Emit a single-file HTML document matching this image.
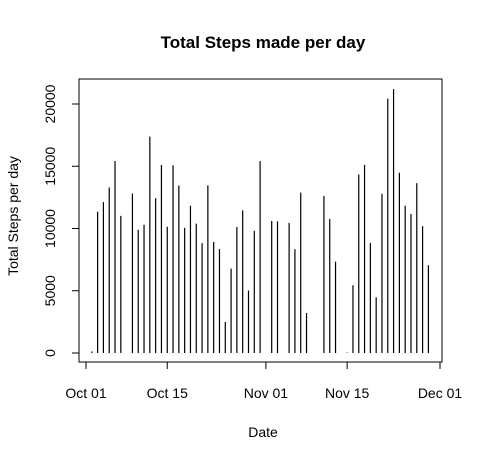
<!DOCTYPE html>
<html><head><meta charset="utf-8"><style>
body{margin:0;background:#fff}
svg text{font-family:"Liberation Sans",Arial,sans-serif}
</style></head><body>
<svg width="483" height="461" id="c">
<text x="263" y="48" font-size="17" font-weight="bold" text-anchor="middle">Total Steps made per day</text>
<text x="263" y="437" font-size="14" text-anchor="middle">Date</text>
<text transform="translate(18,216) rotate(-90)" font-size="14" text-anchor="middle">Total Steps per day</text>
<rect x="79" y="79" width="363" height="283" fill="none" stroke="#000"/>
<g id="bars"></g>
<g id="axes"></g>
</svg>
<script>
const days=[1,2,3,4,5,6,8,9,10,11,12,13,14,15,16,17,18,19,20,21,22,23,24,25,26,27,28,29,30,32,33,35,36,37,38,41,42,43,45,46,47,48,49,50,51,52,53,54,55,56,57,58,59];
const steps=[126,11352,12116,13294,15420,11015,12811,9900,10304,17382,12426,15098,10139,15084,13452,10056,11829,10395,8821,13460,8918,8355,2492,6778,10119,11458,5018,9819,15414,10600,10571,10439,8334,12883,3219,12608,10765,7336,41,5441,14339,15110,8841,4472,12787,20427,21194,14478,11834,11162,13646,10183,7047];
const yTicks=[0,5000,10000,15000,20000];
const xTickDays=[0,14,31,45,61];
const xTickLabels=["Oct 01","Oct 15","Nov 01","Nov 15","Dec 01"];
const NS="http://www.w3.org/2000/svg";
const x=d=>86+d*(440-86)/61;
const y=v=>353-v*(353-104)/20000;
const bars=document.getElementById('bars'),axes=document.getElementById('axes');
function mk(tag,at,par){const e=document.createElementNS(NS,tag);for(const k in at)e.setAttribute(k,at[k]);par.appendChild(e);return e;}
days.forEach((d,i)=>{const l=mk('line',{x1:x(d),x2:x(d),y1:y(0),y2:y(steps[i]),stroke:'#000','stroke-width':1.2},bars);

});
mk('line',{x1:79,x2:79,y1:y(0),y2:y(20000),stroke:'#000'},axes);
yTicks.forEach(v=>{mk('line',{x1:72,x2:79,y1:y(v),y2:y(v),stroke:'#000'},axes);
const t=mk('text',{transform:`translate(55,${y(v)}) rotate(-90)`,'font-size':14,'text-anchor':'middle'},axes);t.textContent=v;

});
mk('line',{x1:x(0),x2:x(61),y1:362,y2:362,stroke:'#000'},axes);
xTickDays.forEach((d,i)=>{mk('line',{x1:x(d),x2:x(d),y1:362,y2:369,stroke:'#000'},axes);
const t=mk('text',{x:x(d),y:398,'font-size':14,'text-anchor':'middle'},axes);t.textContent=xTickLabels[i];

});
</script>
</body></html>
